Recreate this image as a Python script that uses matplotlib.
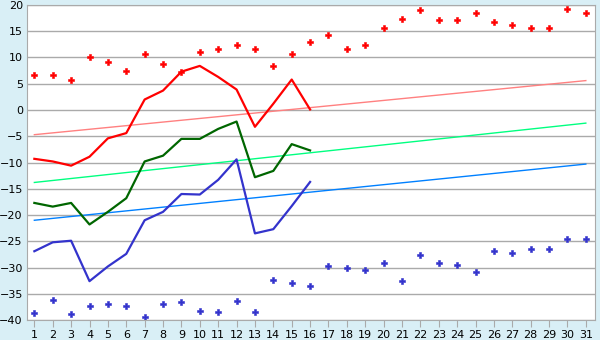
import matplotlib.pyplot as plt
import numpy as np

days = np.arange(1, 32)
line_days = np.arange(1, 17)

# upper markers (red) and lower markers (blue), all 31 days
red_pts = [6.6, 6.6, 5.8, 10.0, 9.1, 7.4, 10.6, 8.7, 7.2, 11.0, 11.7, 12.3, 11.6, 8.3, 10.6, 12.9,
           14.2, 11.6, 12.3, 15.6, 17.3, 19.0, 17.1, 17.1, 18.4, 16.7, 16.1, 15.6, 15.6, 19.2, 18.4]
blue_pts = [-38.7, -36.2, -38.9, -37.4, -37.0, -37.4, -39.5, -37.0, -36.6, -38.3, -38.5, -36.4,
            -38.5, -32.4, -33.0, -33.6, -29.8, -30.0, -30.5, -29.2, -32.6, -27.7, -29.2, -29.6,
            -30.9, -26.9, -27.3, -26.5, -26.5, -24.6, -24.6]

# lines for the first 16 days
red_line = [-9.3, -9.8, -10.6, -8.9, -5.4, -4.4, 2.0, 3.7, 7.3, 8.4, 6.3, 3.9, -3.2, 1.2, 5.8, 0.1]
green_line = [-17.7, -18.4, -17.7, -21.8, -19.4, -16.8, -9.8, -8.7, -5.5, -5.5, -3.6, -2.2,
              -12.8, -11.6, -6.5, -7.7]
blue_line = [-26.9, -25.2, -24.9, -32.6, -29.8, -27.4, -21.0, -19.4, -16.0, -16.1, -13.3, -9.4,
             -23.5, -22.7, -18.3, -13.7]

# straight reference lines: value at day 1 and day 31
trend_days = [1, 31]
trend_red = [-4.7, 5.6]
trend_green = [-13.8, -2.5]
trend_blue = [-21.0, -10.3]

bg = '#d9eff6'
fig = plt.figure(figsize=(6, 3.4), dpi=100, facecolor=bg)
ax = fig.add_axes([0.045, 0.0588, 0.9467, 0.9265])
ax.set_facecolor('white')

ax.plot(trend_days, trend_red, color='#ff8080', lw=1)
ax.plot(trend_days, trend_green, color='#00ff80', lw=1)
ax.plot(trend_days, trend_blue, color='#0080ff', lw=1)

ax.plot(line_days, red_line, color='#ff0000', lw=1.6)
ax.plot(line_days, green_line, color='#006600', lw=1.6)
ax.plot(line_days, blue_line, color='#3333cc', lw=1.6)

ax.plot(days, red_pts, ls='none', marker='P', ms=5, color='#ff0000', mew=0.4)
ax.plot(days, blue_pts, ls='none', marker='P', ms=5, color='#3333cc', mew=0.4)

ax.set_xlim(0.6, 31.5)
ax.set_ylim(-40, 20)
ax.set_yticks(np.arange(-40, 21, 5))
ax.set_xticks(days)
ax.grid(axis='y', color='#aaaaaa', lw=1)
ax.set_axisbelow(True)
ax.tick_params(axis='y', length=0, labelsize=8, pad=3)
ax.tick_params(axis='x', length=5, color='#aaaaaa', labelsize=8, pad=2)
for s in ax.spines.values():
    s.set_color('#aaaaaa')

plt.savefig('out.png', dpi=100, facecolor=bg)
